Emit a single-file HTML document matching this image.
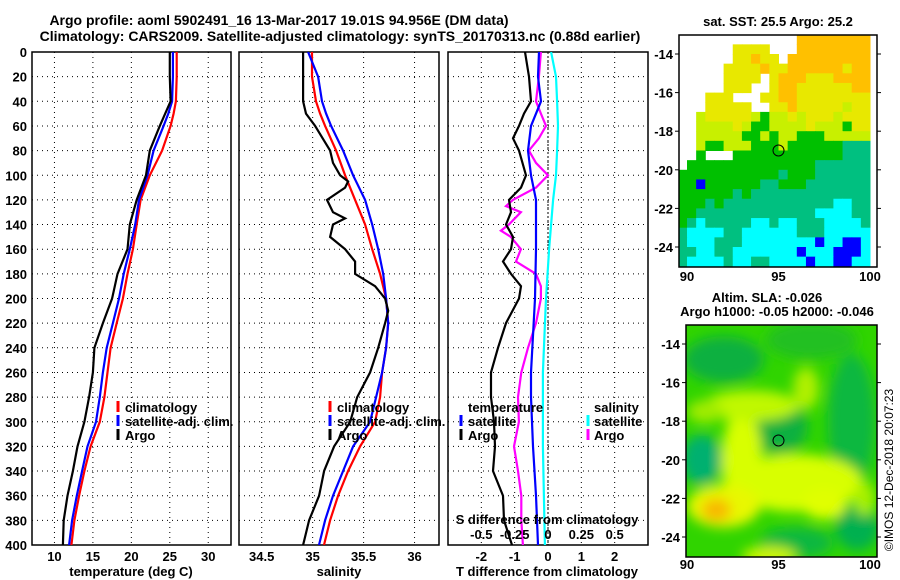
<!DOCTYPE html>
<html><head><meta charset="utf-8"><style>
html,body{margin:0;padding:0;background:#fff;}
svg{display:block;font-family:"Liberation Sans",sans-serif;font-weight:bold;}
</style></head><body>
<svg id="chart" width="900" height="580" viewBox="0 0 900 580" xmlns="http://www.w3.org/2000/svg">
<defs>
<clipPath id="c1"><rect x="32" y="52" width="199" height="493"/></clipPath>
<clipPath id="c2"><rect x="239" y="52" width="200" height="493"/></clipPath>
<clipPath id="c3"><rect x="448" y="52" width="200" height="493"/></clipPath>
<clipPath id="m1"><rect x="679" y="35" width="198" height="232"/></clipPath>
<clipPath id="m2"><rect x="686" y="325" width="191" height="232"/></clipPath>
<filter id="blur" x="-20%" y="-20%" width="140%" height="140%"><feGaussianBlur stdDeviation="6"/></filter>
</defs>
<text x="279" y="25" font-size="14" text-anchor="middle">Argo profile: aoml 5902491_16 13-Mar-2017 19.01S 94.956E (DM data)</text>
<text x="340" y="41" font-size="14" text-anchor="middle">Climatology: CARS2009. Satellite-adjusted climatology: synTS_20170313.nc (0.88d earlier)</text>
<g id="g"></g>
<text transform="translate(893,470) rotate(-90)" font-size="12" font-weight="normal" text-anchor="middle">©IMOS 12-Dec-2018 20:07:23</text>
</svg>
<script>
// ---------- data ----------
const depthTicks = [0,20,40,60,80,100,120,140,160,180,200,220,240,260,280,300,320,340,360,380,400];
const tDepths = [0,20,40,50,60,80,100,120,140,160,180,200,220,240,260,280,300,320,340,360,380,400];
const tClim = [25.9,25.9,25.8,25.5,25.1,24.0,22.4,21.2,20.7,20.2,19.5,18.9,18.1,17.3,16.9,16.5,15.9,14.7,13.9,13.2,12.6,12.2];
const tSat = [25.4,25.4,25.3,24.8,24.2,22.9,22.1,21.0,20.5,19.8,19.0,18.4,17.6,16.8,16.3,15.9,15.4,14.3,13.6,12.9,12.3,11.9];
const tArgo = [25.0,25.0,25.1,24.4,23.7,22.4,21.9,20.7,19.8,19.5,18.2,17.5,16.3,15.2,15.0,14.5,13.9,13.0,12.4,11.7,11.2,11.1];
const sDepths = [0,20,40,50,60,80,100,120,140,160,180,200,220,240,260,280,300,320,340,360,380,400];
const sClim = [34.994,34.994,35.033,35.073,35.122,35.230,35.318,35.417,35.515,35.584,35.662,35.721,35.741,35.721,35.682,35.662,35.613,35.466,35.348,35.250,35.171,35.111];
const sSat = [34.955,35.053,35.092,35.132,35.181,35.299,35.397,35.515,35.584,35.643,35.692,35.721,35.741,35.721,35.682,35.623,35.564,35.397,35.299,35.200,35.122,35.062];
const sArgoDepths = [0,20,40,50,60,80,90,100,105,110,120,130,135,140,150,160,170,180,190,200,210,220,240,260,280,300,320,340,360,380,400];
const sArgo = [34.906,34.906,34.906,34.935,35.024,35.171,35.200,35.269,35.348,35.318,35.141,35.200,35.318,35.200,35.171,35.318,35.417,35.417,35.613,35.711,35.741,35.711,35.643,35.564,35.437,35.368,35.210,35.112,35.063,34.965,34.906];
const dDepths = [0,20,40,50,60,70,80,100,110,120,130,140,150,160,170,180,190,200,220,240,260,280,300,320,340,360,380,400];
const dTArgo = [-0.69,-0.57,-0.51,-0.72,-0.87,-1.05,-0.87,-0.66,-0.81,-1.17,-1.11,-1.26,-1.05,-1.11,-1.35,-1.11,-0.81,-0.87,-1.26,-1.5,-1.71,-1.71,-1.62,-1.59,-1.65,-1.35,-1.32,-1.08];
const dSArgoDepths = [0,20,40,50,60,70,80,90,100,110,120,125,130,140,145,150,160,170,180,190,200,220,240,260,280,300,320,340,360,380,400];
const dSArgo = [-0.053,-0.068,-0.09,-0.053,-0.015,-0.068,-0.143,-0.09,0,-0.09,-0.263,-0.315,-0.203,-0.293,-0.353,-0.278,-0.203,-0.24,-0.09,-0.053,-0.053,-0.09,-0.15,-0.2,-0.225,-0.218,-0.255,-0.225,-0.2,-0.2,-0.188];
const dTSatDepths = [0,20,40,60,80,100,120,160,200,260,280,320,360,400];
const dTSat = [-0.27,-0.30,-0.21,-0.51,-0.60,-0.51,-0.36,-0.36,-0.39,-0.51,-0.51,-0.45,-0.36,-0.30];
const dSSatDepths = [0,20,40,60,80,100,120,140,160,200,260,320,400];
const dSSat = [0.023,0.06,0.068,0.075,0.068,0.06,0.038,0.023,0.008,-0.015,-0.038,-0.038,-0.023];
const tTicks = [10,15,20,25,30];
const sTicks = [34.5,35,35.5,36];
const dTTicks = [-2,-1,0,1,2];
const dSTicks = [-0.5,-0.25,0,0.25,0.5];
const latTicks = [-14,-16,-18,-20,-22,-24];
const lonTicks = [90,95,100];

const NS='http://www.w3.org/2000/svg';
const G=document.getElementById('g');
function el(tag,attrs,parent){const e=document.createElementNS(NS,tag);for(const k in attrs)e.setAttribute(k,attrs[k]);(parent||G).appendChild(e);return e;}
const yD = d => 52 + d*(493/400);
function xs(x0,x1,d0,d1){return v=>x0+(v-d0)*(x1-x0)/(d1-d0);}
const P=[
 {x0:32,x1:231,sc:xs(32,231,7.08,32.96),clip:'c1'},
 {x0:239,x1:439,sc:xs(239.3,439,34.28,36.24),clip:'c2'},
 {x0:448,x1:648,sc:xs(448,648,-3,3),clip:'c3'}];
const sDiff = xs(448,648,-0.75,0.75);

P.forEach((p,i)=>{
  const ticks=[tTicks,sTicks,dTTicks][i];
  ticks.forEach(t=>{const x=p.sc(t);
    const l=el('line',{x1:x,x2:x,y1:52,y2:545,stroke:'#000','stroke-width':1,'stroke-dasharray':'1,4'});
    
    
    const tx=el('text',{x:x,y:561,'font-size':13,'text-anchor':'middle'});tx.textContent=t;
    
    
  });
  depthTicks.forEach(d=>{
    const l=el('line',{x1:p.x0,x2:p.x1,y1:yD(d),y2:yD(d),stroke:'#000','stroke-width':1,'stroke-dasharray':'1,4'});
    
    
  });
  const r=el('rect',{x:p.x0,y:52,width:p.x1-p.x0,height:493,fill:'none',stroke:'#000','stroke-width':1.5});
  
  
});
depthTicks.forEach(d=>{
  const t=el('text',{x:27,y:yD(d)+5,'font-size':13,'text-anchor':'end'});t.textContent=d;
  
  
});
const zl=el('line',{x1:P[2].sc(0),x2:P[2].sc(0),y1:52,y2:545,stroke:'#000','stroke-width':1,'stroke-dasharray':'2,2'});



function series(sc,depths,vals,color,clip,name){
  const pts=vals.map((v,i)=>sc(v).toFixed(1)+','+yD(depths[i]).toFixed(1)).join(' ');
  const l=el('polyline',{points:pts,fill:'none',stroke:color,'stroke-width':2.2,'clip-path':'url(#'+clip+')'});
  
  
}
series(P[0].sc,tDepths,tClim,'#ff0000','c1','temperature-climatology-line');
series(P[0].sc,tDepths,tSat,'#0000ff','c1','temperature-satellite-line');
series(P[0].sc,tDepths,tArgo,'#000','c1','temperature-argo-line');
series(P[1].sc,sDepths,sClim,'#ff0000','c2','salinity-climatology-line');
series(P[1].sc,sDepths,sSat,'#0000ff','c2','salinity-satellite-line');
series(P[1].sc,sArgoDepths,sArgo,'#000','c2','salinity-argo-line');
series(sDiff,dSSatDepths,dSSat,'#00ffff','c3','s-diff-satellite-line');
series(sDiff,dSArgoDepths,dSArgo,'#ff00ff','c3','s-diff-argo-line');
series(P[2].sc,dTSatDepths,dTSat,'#0000ff','c3','t-diff-satellite-line');
series(P[2].sc,dDepths,dTArgo,'#000','c3','t-diff-argo-line');

function txt(x,y,s,size,anchor,name){const t=el('text',{x:x,y:y,'font-size':size,'text-anchor':anchor||'start'});t.textContent=s;
  
  return t;}
function bar(x,y,c,name){const l=el('line',{x1:x,x2:x,y1:y-11,y2:y,stroke:c,'stroke-width':3});
  
  }
[[118,'#ff0000','climatology'],[118,'#0000ff','satellite-adj. clim.'],[118,'#000','Argo']].forEach((e,i)=>{bar(118,412+i*14,e[1],'legend-marker');txt(125,412+i*14,e[2],13,'start','legend-entry');});
[[330,'#ff0000','climatology'],[330,'#0000ff','satellite-adj. clim.'],[330,'#000','Argo']].forEach((e,i)=>{bar(330,412+i*14,e[1],'legend-marker');txt(337,412+i*14,e[2],13,'start','legend-entry');});
txt(468,412,'temperature',13,'start','legend-title');
bar(461,426,'#0000ff','legend-marker');txt(468,426,'satellite',13,'start','legend-entry');
bar(461,440,'#000','legend-marker');txt(468,440,'Argo',13,'start','legend-entry');
txt(594,412,'salinity',13,'start','legend-title');
bar(588,426,'#00ffff','legend-marker');txt(594,426,'satellite',13,'start','legend-entry');
bar(588,440,'#ff00ff','legend-marker');txt(594,440,'Argo',13,'start','legend-entry');
txt(547,524,'S difference from climatology',13,'middle','s-axis-title');
dSTicks.forEach(t=>txt(sDiff(t),539,String(t),13,'middle','s-tick-label'));
txt(131,576,'temperature (deg C)',13,'middle','x-axis-title');
txt(339,576,'salinity',13,'middle','x-axis-title');
txt(547,576,'T difference from climatology',13,'middle','x-axis-title');

// ---------- maps ----------
const lonX = xs(687,870,90,100);
const lat1 = xs(54,247,-14,-24);
const lat2 = xs(344,537,-14,-24);
const sstRows = [
".............oooooooo",
"......yyyy...oooooooo",
"......yyoyy.ooooooooo",
".....yyyyoyyooooooyoo",
".....yyyy.yoooyyyoooo",
".....yyy..yooyyyyyyoo",
"...yyy...yyooyyyyyyyy",
"...yyyyy..yyoyyyyylyy",
"..lyyyyylgllylyyylyyy",
"..llllylggllllylllgyy",
"..lllllgglgllggglllll",
"..lgglllggglggggggttt",
"..g...ggggggggggggttt",
".ggggggggggggggtttttt",
"gggggggggggtgggtttttt",
"ggbggggggttgggttttttt",
"ggggggtgttttttttttttt",
"gggtgttttttttttttcctt",
"ggtttttttttttttcccctt",
"gtctttttcctcctttcccct",
"tccccttcccccctttccccc",
"tccctttccccccccbccbbc",
"ttccttcccccccbcccbbbc",
"tcccctccttccccbccbbcc"];
const sstColors={o:'#ffc000',y:'#e8e800',l:'#c8f000',g:'#00c000',t:'#00c080',c:'#00ffff',b:'#0000ff'};
const m1=el('g',{'clip-path':'url(#m1)'});


sstRows.forEach((row,r)=>{[...row].forEach((ch,c)=>{if(ch==='.')return;
  const lon=89.5+c*0.5, lat=-13-r*0.5;
  const x=lonX(lon),y=lat1(lat);
  const cell=el('rect',{x:x,y:y,width:lonX(lon+0.5)-x+0.5,height:lat1(lat-0.5)-y+0.5,fill:sstColors[ch]},m1);
  
  
});});
const m2=el('g',{'clip-path':'url(#m2)'});


el('rect',{x:686,y:325,width:191,height:232,fill:'#30d400'},m2);
const bl=el('g',{filter:'url(#blur)'},m2);
const blobs=[[92,-14.8,2.2,1.2,'#10b040'],[96.8,-13.8,2.5,1,'#20c020'],[95,-18.3,1.6,1.4,'#08b040'],[90.8,-20,1.1,1.3,'#00b070'],[99,-18,1.3,3.5,'#10b840'],[99.3,-23.5,1.2,1.2,'#00b050'],[96,-24.3,2,0.8,'#10b840'],
[96,-21.2,3.6,1.5,'#d8ff00'],[93,-20,1.1,2.6,'#d8ff00'],[93.5,-17.2,2.6,0.8,'#c0f800'],[96.5,-16.3,0.7,1.1,'#b0f000'],[92,-22.4,2,1.1,'#e8f800'],[91.6,-22.6,0.8,0.6,'#f8b800'],[94.5,-25,1.5,0.5,'#d0f800'],[99.7,-22,0.6,0.9,'#a8f000'],[97.5,-22.3,1.2,0.8,'#e0ff00'],[91,-17.5,1,0.6,'#a0ec00']];
blobs.forEach(b=>{const e=el('ellipse',{cx:lonX(b[0]),cy:lat2(b[1]),rx:b[2]*18.3,ry:b[3]*19.3,fill:b[4]},bl);
  
  });
[[679,35,198,232,lat1],[686,325,191,232,lat2]].forEach((m,i)=>{
  const f=el('rect',{x:m[0],y:m[1],width:m[2],height:m[3],fill:'none',stroke:'#000','stroke-width':1.5});
  
  
  latTicks.forEach(t=>{const y=m[4](t);
    el('line',{x1:m[0]-4,x2:m[0],y1:y,y2:y,stroke:'#000'});
    el('line',{x1:m[0]+m[2],x2:m[0]+m[2]+4,y1:y,y2:y,stroke:'#000'});
    txt(m[0]-6,y+5,String(t),13,'end','lat-tick-label');});
  lonTicks.forEach(t=>{txt(lonX(t),i?569:281,String(t),13,'middle','lon-tick-label');});
  const c=el('circle',{cx:lonX(95),cy:m[4](-19),r:5.5,fill:'none',stroke:'#000','stroke-width':1});
  
  
});
txt(778,26,'sat. SST: 25.5 Argo: 25.2',13,'middle','sst-map-title');
txt(767,302,'Altim. SLA: -0.026',13,'middle','sla-map-title');
txt(777,316,'Argo h1000: -0.05 h2000: -0.046',13,'middle','sla-map-subtitle');
</script>
</body></html>
